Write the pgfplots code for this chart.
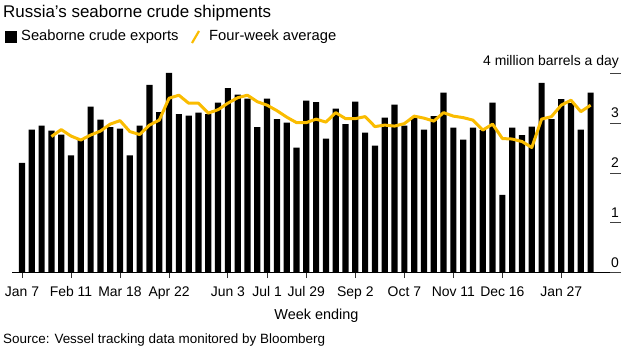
\documentclass[border=0pt]{standalone}
\usepackage{pgfplots}
\pgfplotsset{compat=1.18}
\usepackage{pgfplotstable}
\usepackage{fontspec}
\setmainfont{Liberation Sans}
\definecolor{byellow}{RGB}{250,188,0}

\pgfplotstableread{
idx val
0 2.20
1 2.87
2 2.95
3 2.85
4 2.77
5 2.35
6 2.66
7 3.33
8 3.07
9 2.92
10 2.89
11 2.35
12 2.95
13 3.77
14 3.22
15 4.01
16 3.18
17 3.15
18 3.21
19 3.18
20 3.41
21 3.70
22 3.57
23 3.49
24 2.92
25 3.49
26 3.08
27 3.01
28 2.51
29 3.45
30 3.42
31 2.69
32 3.29
33 2.98
34 3.43
35 2.81
36 2.55
37 3.11
38 3.37
39 2.95
40 3.11
41 2.87
42 3.14
43 3.61
44 2.91
45 2.67
46 2.91
47 2.86
48 3.41
49 1.56
50 2.91
51 2.76
52 2.93
53 3.81
54 3.08
55 3.48
56 3.40
57 2.87
58 3.61
}\exports

\pgfplotstableread{
idx val
3 2.73
4 2.87
5 2.74
6 2.66
7 2.76
8 2.84
9 2.98
10 3.05
11 2.83
12 2.77
13 2.96
14 3.06
15 3.50
16 3.56
17 3.40
18 3.40
19 3.20
20 3.27
21 3.40
22 3.51
23 3.56
24 3.43
25 3.36
26 3.25
27 3.12
28 3.01
29 3.01
30 3.08
31 3.02
32 3.21
33 3.09
34 3.09
35 3.13
36 2.93
37 2.96
38 2.94
39 2.99
40 3.14
41 3.10
42 3.04
43 3.21
44 3.14
45 3.11
46 3.06
47 2.86
48 2.98
49 2.69
50 2.68
51 2.63
52 2.51
53 3.08
54 3.13
55 3.36
56 3.46
57 3.23
58 3.36
}\avg

\begin{document}
\begin{tikzpicture}[x=1bp,y=1bp]
\useasboundingbox (0,0) rectangle (633,-352);
\node[anchor=west, inner sep=0pt, font=\fontsize{17}{20}\selectfont] at (3,-13) {Russia's seaborne crude shipments};
\fill[black] (5,-42.5) rectangle (17,-30.5);
\node[anchor=west, inner sep=0pt, font=\fontsize{14.8}{17}\selectfont] at (21,-36.5) {Seaborne crude exports};
\draw[byellow, line width=2.2bp] (192,-43) -- (199,-31);
\node[anchor=west, inner sep=0pt, font=\fontsize{14.8}{17}\selectfont] at (209,-36.5) {Four-week average};
\begin{axis}[
  at={(12bp,-272.5bp)}, anchor=south west,
  scale only axis, width=609bp, height=199.2bp,
  xmin=-1.02, xmax=61.1, ymin=0, ymax=4,
  axis x line*=bottom, axis y line*=right,
  y axis line style={draw=none},
  x axis line style={line width=1bp, black},
  tick align=outside, major tick length=5.5bp,
  xtick={0,5,10,15,21,25,29,34,39,44,49,55},
  xticklabels={Jan 7,Feb 11,Mar 18,Apr 22,Jun 3,Jul 1,Jul 29,Sep 2,Oct 7,Nov 11,Dec 16,Jan 27},
  xtick style={black!80, line width=0.8bp},
  ytick=\empty,
  extra y ticks={0,1,2,3,4},
  extra y tick labels={0,1,2,3,4 million barrels a day},
  extra y tick style={tick align=inside, major tick length=11bp, tick style={black!75, line width=0.8bp},
     yticklabel style={anchor=south east, inner sep=0pt, xshift=-2bp, yshift=5bp}},
  ticklabel style={font=\fontsize{14}{16}\selectfont},
  xticklabel style={yshift=-5bp},
  /pgf/number format/assume math mode=true,
  xlabel={Week ending},
  xlabel style={font=\fontsize{14.5}{16}\selectfont, yshift=-3bp},
  clip=false,
]
\addplot[ybar, bar width=6.2bp, fill=black, draw=none] table[x=idx, y=val] {\exports};
\addplot[byellow, line width=3bp, line join=round] table[x=idx, y=val] {\avg};
\end{axis}
\node[anchor=west, inner sep=0pt, font=\fontsize{13.5}{16}\selectfont] at (3,-340) {Source: Vessel tracking data monitored by Bloomberg};
\end{tikzpicture}
\end{document}
